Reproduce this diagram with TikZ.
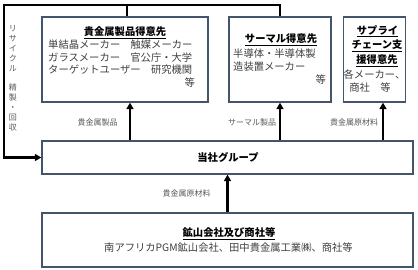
\documentclass[tikz,border=0pt]{standalone}
\usepackage{fontspec}
\setmainfont{Noto Sans CJK JP}
\usetikzlibrary{arrows.meta}
\definecolor{boxc}{HTML}{44546A}
\definecolor{bodyc}{HTML}{404040}
\definecolor{lblc}{HTML}{595959}
\tikzset{
  box/.style={draw=boxc, line width=1.3pt, fill=white, inner sep=0pt},
  body/.style={text=bodyc, font=\fontsize{10.3}{12}\selectfont, inner sep=0pt},
  ttl/.style={text=black, font=\bfseries\fontsize{10.3}{12}\selectfont, inner sep=0pt},
  lbl/.style={text=lblc, font=\fontsize{8}{10}\selectfont, inner sep=0pt},
  conn/.style={line width=2.4pt, black},
  arr/.style={conn, -{Triangle[length=6.5pt,width=7pt]}}
}
\begin{document}
\begin{tikzpicture}[x=1pt,y=-1pt]
\useasboundingbox (0,0) rectangle (418,270);
% boxes
\node[box, minimum width=166pt, minimum height=85pt] (b1) at (125,59.5) {};
\node[box, minimum width=102pt, minimum height=85pt] (b2) at (280,59.5) {};
\node[box, minimum width=62pt, minimum height=85pt] (b3) at (374.5,59.5) {};
\node[box, minimum width=371pt, minimum height=33pt] (tg) at (227.5,157.5) {};
\node[box, minimum width=371pt, minimum height=54pt] (bt) at (227.5,240) {};
% box1 text
\node[ttl] (t1) at (125,33) {\underline{貴金属製品得意先}};
\node[body, anchor=west] (t1a) at (48,45) {単結晶メーカー　触媒メーカー};
\node[body, anchor=west] (t1b) at (48,57.5) {ガラスメーカー　官公庁・大学};
\node[body, anchor=west] (t1c) at (48,70) {ターゲットユーザー　研究機関};
\node[body, anchor=east] (t1d) at (195,83) {等};
% box2 text
\node[ttl] (t2) at (281,40) {\underline{サーマル得意先}};
\node[body, anchor=west] (t2a) at (233,54) {半導体・半導体製};
\node[body, anchor=west] (t2b) at (233,66.5) {造装置メーカー};
\node[body, anchor=east] (t2c) at (326,80) {等};
% box3 text
\node[ttl] (t3a) at (377.5,31) {\underline{サプライ}};
\node[ttl] (t3b) at (377,46) {\underline{チェーン支}};
\node[ttl] (t3c) at (377,61) {\underline{援得意先}};
\node[body] (t3d) at (374.5,75) {各メーカー、};
\node[body] (t3e) at (370,88) {商社　等};
% group
\node[ttl] (tgt) at (228,157) {当社グループ};
% bottom
\node[ttl] (btt) at (229,234) {\underline{鉱山会社及び商社等}};
\node[body] (btb) at (228.5,247.5) {南アフリカPGM鉱山会社、田中貴金属工業㈱、商社等};
% labels
\node[lbl] (l1) at (97.5,122) {貴金属製品};
\node[lbl] (l2) at (252,122) {サーマル製品};
\node[lbl] (l3) at (354,122) {貴金属原材料};
\node[lbl] (l4) at (186.5,193) {貴金属原材料};
\node[lbl, align=center, anchor=north, font=\fontsize{8}{10}\selectfont] (rv) at (13,25)
  {リ\\サ\\イ\\ク\\ル\\[9pt]精\\製\\・\\回\\収};
% connectors
\coordinate (tl) at (4,5);
\draw[arr] (b2.north) |- (tl) |- (tg.west);
\draw[conn] ([xshift=2pt]b1.north) -- ([xshift=2pt]b1.north |- tl);
\draw[arr] ([xshift=5pt]b1.south |- tg.north) -- ([xshift=5pt]b1.south);
\draw[arr] (b2.south |- tg.north) -- (b2.south);
\draw[arr] ([xshift=8.5pt]b3.south |- tg.north) -- ([xshift=8.5pt]b3.south);
\draw[arr] (bt.north) -- (tg.south);
\end{tikzpicture}
\end{document}
